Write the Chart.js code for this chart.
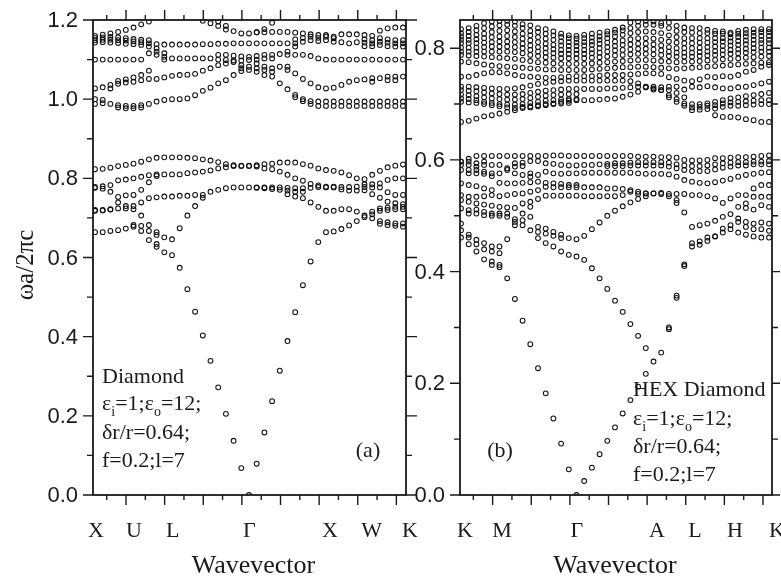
<!DOCTYPE html>
<html><head><meta charset="utf-8">
<script src="https://cdn.jsdelivr.net/npm/chart.js@4.4.1/dist/chart.umd.min.js"></script>
<style>
html,body{margin:0;padding:0;background:#fff;}
#wrap{position:relative;width:781px;height:580px;overflow:hidden;background:#fff;}
canvas{position:absolute;top:0;}
#ca{left:0;} #cb{left:400px;}
</style></head><body>
<div id="wrap"><canvas id="ca" width="430" height="580"></canvas><canvas id="cb" width="381" height="580"></canvas></div>
<script>
// k-point sample index along the path (41 samples per panel)
const K_INDEX = [0,1,2,3,4,5,6,7,8,9,10,11,12,13,14,15,16,17,18,19,20,21,22,23,24,25,26,27,28,29,30,31,32,33,34,35,36,37,38,39,40];
const _ = null;

// ---------- Panel (a): Diamond, path X-U-L-Γ-X-W-K ----------
const SYM_A = ['X','U','L','Γ','X','W','K'];
const SYM_A_POS = [0.13,5.06,10.09,20.04,30.52,35.94,40.9];
const Y_LABELS_A = [0.0,0.2,0.4,0.6,0.8,1.0,1.2];

const A_E  = [0.823,0.824,0.827,0.831,0.834,0.837,0.842,0.848,0.852,0.853, 0.853,0.853,0.852,0.851,0.848,0.845,0.841,0.836,0.833,0.831, 0.831,0.833,0.836,0.837,0.840,0.840,0.840,0.836,0.832,0.825, 0.821,0.819,0.815,0.808,0.800,0.798,0.809,0.819,0.828,0.832,0.835];
const A_D  = [0.778,0.780,0.783,0.795,0.797,0.800,0.804,0.808,0.810,0.810, 0.810,0.810,0.813,0.815,0.817,0.820,0.825,0.828,0.831,0.832, 0.832,0.830,0.825,0.823,0.817,0.809,0.800,0.794,0.786,0.782, 0.779,0.779,0.778,0.778,0.779,0.785,0.785,0.787,0.796,0.800,0.800];
const A_D2 = [0.776,0.774,0.766,0.753,0.757,0.758,0.771,0.790,0.806,_, _,_,_,_,_,_,_,_,_,_, _,0.777,0.777,0.777,0.777,0.776,0.775,0.775,0.776,0.778, 0.777,0.777,0.772,0.769,0.769,0.778,0.777,0.777,0.765,0.758,0.758];
const A_C  = [0.720,0.720,0.722,0.724,0.730,0.730,0.739,0.750,0.752,0.754, 0.754,0.756,0.756,0.758,0.758,0.766,0.771,0.775,0.777,0.777, 0.777,0.776,0.775,0.773,0.771,0.769,0.766,0.766,_,_, _,_,_,_,_,0.770,0.760,0.751,0.741,0.737,0.735];
const A_B  = [0.718,0.719,0.721,0.739,0.724,0.722,0.706,0.682,0.664,0.651, 0.646,0.674,0.706,0.730,0.751,_,_,_,_,_, _,_,_,_,_,0.760,0.754,0.750,0.739,0.728, 0.718,0.718,0.722,0.722,0.716,0.706,0.716,0.724,0.726,0.728,0.728];
const A_F2 = [_,_,_,_,_,_,_,_,0.657,_, _,_,_,_,_,_,_,_,_,_, _,_,_,_,_,_,_,_,_,_, _,_,_,_,_,_,0.709,0.718,0.720,0.722,0.722];
const A_AC = [0.664,0.664,0.667,0.669,0.673,0.678,0.667,0.644,0.627,0.613, 0.606,0.574,0.520,0.463,0.403,0.339,0.272,0.205,0.137,0.068, 0.000,0.079,0.158,0.237,0.314,0.389,0.462,0.530,0.590,0.639, 0.664,0.666,0.672,0.681,0.692,0.702,0.699,0.692,0.689,0.686,0.686];
const A_A2 = [_,_,_,_,_,0.682,0.680,0.667,0.634,_, _,_,_,_,_,_,_,_,_,_, _,_,_,_,_,_,_,_,_,_, _,_,_,_,_,_,_,0.685,0.682,0.680,0.678];

const A_U1 = [1.160,1.163,1.166,1.170,1.175,1.181,1.189,1.196,_,_, _,_,_,_,1.198,1.192,1.185,1.176,1.172,1.166, 1.166,1.169,1.177,1.193,_,_,_,_,_,_, _,_,_,_,_,_,_,_,_,_,_];
const A_U1X= [_,_,_,_,_,_,_,_,_,_, _,_,_,_,_,_,1.196,1.185,_,1.078, _,_,_,_,_,_,_,_,_,_, _,_,_,_,_,_,_,_,_,_,_];
const A_U2 = [1.155,1.156,1.157,1.156,1.154,1.152,1.150,1.149,1.139,1.138, 1.138,1.138,1.138,1.138,1.139,1.139,1.140,1.140,1.141,1.141, 1.141,1.169,1.169,1.170,1.170,1.170,1.168,1.166,1.164,1.162, 1.162,1.158,1.164,1.164,1.164,1.162,1.160,1.173,1.179,1.181,1.181];
const A_U3 = [1.149,1.150,1.150,1.149,1.148,1.146,1.144,1.141,1.128,1.116, 1.103,1.103,1.103,1.103,1.103,1.103,1.112,1.112,1.110,1.108, 1.107,1.141,1.141,1.141,1.141,1.141,1.151,1.155,1.158,1.155, 1.158,1.154,1.144,1.141,1.144,1.151,1.149,1.154,1.151,1.149,1.149];
const A_U4 = [1.143,1.144,1.143,1.142,1.140,1.139,1.137,1.133,1.120,1.107, _,_,_,_,_,_,1.100,1.099,1.098,1.098, 1.099,_,_,_,_,_,1.141,1.145,1.149,1.147, 1.149,1.145,_,_,_,1.143,1.141,1.145,1.143,1.141,1.141];
const A_U5 = [1.100,1.100,1.100,1.100,1.100,1.100,1.100,1.116,1.112,1.100, _,_,_,_,_,_,_,_,_,_, _,1.109,1.112,1.112,1.114,1.120,1.133,_,_,_, _,_,_,_,_,1.134,1.134,1.137,1.134,1.133,1.133];
const A_U6 = [1.027,1.030,1.036,1.046,1.050,1.055,1.061,1.072,_,_, _,_,_,_,_,_,_,_,_,_, _,1.100,1.103,1.103,_,1.112,1.112,1.112,1.109,1.103, 1.100,1.100,1.100,1.100,1.100,1.100,1.100,1.100,1.100,1.100,1.100];
const A_U7 = [_,_,1.027,1.039,1.042,1.044,1.048,1.051,1.051,1.055, 1.059,1.061,1.062,1.064,1.072,1.078,1.086,1.090,1.094,1.086, 1.082,1.090,1.082,1.078,1.082,1.082,1.065,1.051,1.040,1.030, 1.027,1.029,1.036,1.044,1.048,1.050,1.053,1.053,1.057,1.057,1.057];
const A_U8 = [1.000,0.998,0.988,0.985,0.983,0.983,0.985,0.988,0.994,0.998, 1.000,1.000,1.002,1.010,1.021,1.029,1.040,1.048,1.061,1.071, 1.074,1.078,1.074,1.069,_,1.074,_,_,_,_, _,_,_,_,_,_,1.044,_,1.048,1.048,_];
const A_U9 = [0.988,0.990,_,0.979,0.977,0.977,0.979,_,_,_, _,_,_,_,_,_,_,_,_,_, _,1.069,1.061,1.057,1.040,1.025,1.011,1.000,0.995,0.994, 0.994,0.994,0.994,0.994,0.994,0.994,0.994,0.994,0.994,0.994,0.994];
const A_U10= [_,_,_,_,_,_,_,_,_,_, _,_,_,_,_,_,_,_,_,_, _,_,_,_,_,_,1.005,0.995,0.988,0.983, 0.983,0.983,0.983,0.983,0.983,0.983,0.983,0.983,0.983,0.983,0.983];

// ---------- Panel (b): HEX Diamond, path K-M-Γ-A-L-H-K ----------
const SYM_B = ['K','M','Γ','A','L','H','K'];
const SYM_B_POS = [0.52,5.32,15.06,25.45,30.39,35.58,41.04];
const Y_LABELS_B = [0.0,0.2,0.4,0.6,0.8];

const B_U1 = [0.834,0.836,0.840,0.845,0.848,0.849,0.849,0.848,0.843,0.841, 0.836,0.834,0.830,0.826,0.823,0.822,0.824,0.826,0.828,0.830, 0.833,0.837,0.846,0.848,0.849,0.848,0.845,0.846,0.840,0.837, 0.836,0.836,0.833,0.831,0.830,0.828,0.831,0.833,0.834,0.834,0.834];
const B_U2 = [0.827,0.829,0.832,0.836,0.839,0.841,0.842,0.840,0.836,0.831, 0.829,0.826,0.823,0.820,0.818,0.817,0.818,0.819,0.821,0.825, 0.828,0.832,0.836,0.840,0.842,0.842,0.840,0.836,0.831,0.829, 0.828,0.827,0.827,0.826,0.826,0.825,0.826,0.827,0.828,0.829,0.829];
const B_U3 = [0.821,0.822,0.824,0.826,0.829,0.831,0.832,0.830,0.826,0.823, 0.820,0.817,0.815,0.812,0.811,0.810,0.811,0.812,0.815,0.818, 0.821,0.824,0.827,0.829,0.830,0.829,0.827,0.823,0.820,0.818, 0.818,0.818,0.818,0.818,0.818,0.819,0.820,0.821,0.822,0.822,0.822];
const B_U4 = [0.815,0.815,0.816,0.818,0.820,0.821,0.822,0.820,0.817,0.814, 0.811,0.808,0.806,0.805,0.804,0.804,0.805,0.806,0.808,0.810, 0.812,0.814,0.816,0.818,0.818,0.817,0.815,0.812,0.810,0.809, 0.809,0.810,0.810,0.811,0.812,0.812,0.813,0.814,0.815,0.815,0.815];
const B_U5 = [0.809,0.809,0.809,0.810,0.811,0.812,0.812,0.811,0.808,0.805, 0.802,0.800,0.798,0.797,0.797,0.797,0.797,0.798,0.800,0.802, 0.804,0.806,0.807,0.808,0.808,0.807,0.805,0.802,0.800,0.800, 0.800,0.801,0.802,0.803,0.804,0.805,0.806,0.807,0.808,0.809,0.809];
const B_U6 = [0.801,0.801,0.801,0.802,0.803,0.803,0.803,0.802,0.800,0.797, 0.794,0.792,0.791,0.790,0.790,0.790,0.790,0.791,0.792,0.794, 0.796,0.797,0.798,0.799,0.799,0.798,0.796,0.794,0.792,0.792, 0.792,0.793,0.794,0.795,0.796,0.797,0.798,0.799,0.800,0.801,0.801];
const B_U7 = [0.794,0.794,0.794,0.794,0.794,0.794,0.794,0.793,0.791,0.788, 0.786,0.784,0.783,0.782,0.782,0.782,0.782,0.783,0.784,0.785, 0.787,0.788,0.789,0.790,0.790,0.789,0.788,0.786,0.785,0.785, 0.785,0.786,0.787,0.788,0.789,0.790,0.791,0.792,0.793,0.794,0.794];
const B_U8 = [0.788,0.787,0.786,0.785,0.784,0.783,0.782,0.781,0.779,0.777, 0.775,0.774,0.773,0.772,0.772,0.772,0.772,0.773,0.774,0.775, 0.776,0.777,0.778,0.779,0.779,0.778,0.777,0.776,0.775,0.776, 0.776,0.777,0.778,0.779,0.780,0.781,0.782,0.783,0.784,0.785,0.786];
const B_U9 = [0.776,0.775,0.773,0.771,0.769,0.768,0.767,0.766,0.765,0.764, 0.763,0.762,0.762,0.761,0.761,0.761,0.761,0.762,0.763,0.764, 0.765,0.766,0.766,0.767,0.767,0.766,0.765,0.764,0.763,0.764, 0.765,0.766,0.767,0.768,0.769,0.770,0.771,0.772,0.773,0.774,0.775];
const B_U10= [0.749,0.749,0.752,0.755,0.757,0.757,0.755,0.752,0.750,0.749, 0.748,0.747,0.747,0.748,0.749,0.750,0.750,0.750,0.751,0.752, 0.752,0.752,0.753,0.754,0.755,0.755,0.754,0.748,0.745,0.742, 0.741,0.744,0.749,0.748,0.750,0.749,0.752,0.758,0.761,0.767,0.770];
const B_U11= [0.731,0.731,0.730,0.729,0.728,0.727,0.727,0.728,0.730,0.733, 0.736,0.738,0.740,0.741,0.742,0.742,0.742,0.742,0.742,0.742, 0.742,0.742,0.741,0.737,0.730,0.728,0.725,0.731,0.731,0.726, 0.731,0.730,0.732,0.730,0.728,0.728,0.730,0.731,0.734,0.737,0.740];
const B_U12= [0.725,0.724,0.723,0.721,0.719,0.718,0.717,0.717,0.718,0.720, 0.722,0.724,0.725,0.726,0.727,0.727,0.727,0.727,0.727,0.728, 0.728,0.729,0.730,0.731,0.731,0.731,0.730,0.725,0.720,0.712, 0.700,0.700,0.701,0.704,0.707,0.710,0.712,0.714,0.716,0.718,0.720];
const B_U13= [0.717,0.716,0.714,0.712,0.710,0.709,0.708,0.708,0.709,0.711, 0.713,0.715,0.716,0.717,0.718,0.718,_,_,_,_, _,_,_,_,_,_,_,0.716,0.709,0.701, 0.694,0.695,0.697,0.698,0.701,0.703,0.704,0.705,0.706,0.707,0.707];
const B_U14= [0.710,0.709,0.707,0.704,0.702,0.700,0.699,0.699,0.700,0.702, 0.704,0.706,0.707,0.708,0.709,0.709,_,_,_,_, _,_,_,_,_,_,_,_,_,_, 0.689,0.690,0.691,0.692,0.695,0.697,0.697,0.698,0.699,0.700,0.700];
const B_U15= [0.704,0.703,0.702,0.700,0.698,0.696,0.694,0.693,0.693,0.694, 0.696,0.698,0.700,0.701,0.702,_,_,_,_,_, _,_,_,_,_,_,_,_,_,_, _,_,_,_,_,_,_,_,_,_,_];
const B_U16= [0.668,0.670,0.674,0.678,0.680,0.683,0.686,0.689,0.695,0.696, 0.698,0.700,0.701,0.704,0.706,0.707,0.707,0.707,0.708,0.709, 0.710,0.713,0.717,0.722,0.730,0.726,0.725,0.712,0.704,0.697, _,_,_,0.680,0.677,0.677,0.676,0.673,0.671,0.668,0.668];

const B_G1 = [0.597,0.602,0.607,0.607,0.607,0.607,0.607,0.607,0.607,0.607, 0.607,0.607,0.608,0.608,0.607,0.607,0.607,0.607,0.607,0.607, 0.607,0.607,0.607,0.606,0.606,0.606,0.605,0.605,0.604,0.600, 0.599,0.599,0.600,0.603,0.603,0.604,0.605,0.605,0.606,0.607,0.608];
const B_G2 = [0.597,0.597,0.594,0.597,0.591,0.591,0.585,0.594,0.595,0.598, 0.598,0.594,0.593,0.591,0.590,0.590,0.591,0.591,0.592,0.593, 0.594,0.594,0.595,0.596,0.596,0.596,0.596,0.595,0.592,0.590, 0.589,0.589,0.590,0.592,0.594,0.595,0.596,0.596,0.597,0.597,0.598];
const B_G3 = [0.591,0.591,0.588,0.591,_,_,_,0.588,0.589,_, _,_,_,_,_,_,_,_,_,0.589, 0.589,0.589,0.590,0.590,0.590,0.590,0.590,0.588,0.585,0.582, 0.580,0.580,0.580,0.583,0.586,0.588,0.590,0.590,0.592,0.592,0.592];
const B_G4 = [0.582,0.582,0.582,0.579,0.576,0.576,0.582,0.576,0.573,0.576, 0.573,0.579,0.576,0.575,0.576,0.576,0.577,0.577,0.577,0.577, 0.577,0.577,0.577,0.576,0.575,0.575,0.575,0.574,0.570,0.564, 0.561,0.559,0.558,0.560,0.563,0.566,0.570,0.573,0.575,0.577,0.578];
const B_G5 = [_,0.576,0.576,0.575,0.571,_,_,_,_,0.570, _,_,_,_,_,_,_,_,_,_, _,_,_,_,_,_,_,_,_,_, _,_,_,_,_,_,_,_,_,_,_];
const B_G6 = [0.558,0.555,0.553,0.549,0.546,0.559,0.558,0.558,0.559,0.560, 0.561,0.559,0.558,0.557,0.555,0.555,_,_,_,_, _,_,_,_,_,_,_,_,_,_, _,_,_,_,_,_,_,_,_,_,_];
const B_G7 = [0.537,0.534,0.534,0.535,0.537,0.535,0.537,0.539,0.540,0.543, 0.546,0.552,0.551,0.551,0.551,0.551,0.551,0.551,0.551,0.549, 0.549,0.548,0.546,0.543,0.540,0.540,0.539,0.539,0.539,0.539, 0.537,0.537,0.535,0.531,0.523,0.531,0.537,0.537,0.549,0.555,0.555];
const B_G8 = [0.528,0.525,0.522,0.520,0.518,0.516,0.515,0.514,0.522,0.525, 0.530,0.536,0.536,0.536,0.536,0.536,0.535,0.535,0.535,0.535, 0.535,0.537,0.543,0.539,0.540,0.540,0.541,0.535,0.528,0.506, 0.480,0.483,0.486,0.491,0.498,0.503,0.516,0.522,0.534,0.534,0.534];
const B_G9 = [0.513,0.510,0.511,0.507,0.504,0.504,0.504,0.494,0.504,0.516, _,_,_,_,_,_,_,_,_,_, _,_,_,_,_,_,_,_,0.523,_, _,_,_,_,_,_,_,0.514,0.511,0.519,0.516];
const B_G10= [0.486,0.504,0.504,0.501,0.500,0.500,0.498,0.489,0.492,0.498, 0.480,0.477,0.471,0.466,0.460,0.458,0.464,0.476,0.488,0.500, 0.509,0.517,0.524,0.530,0.535,_,_,_,_,_, _,_,_,_,_,_,_,_,_,_,_];
const B_G11= [0.474,0.466,0.457,0.451,0.445,0.445,0.458,0.483,0.483,0.474, 0.471,0.468,0.464,0.460,_,_,_,_,_,_, _,_,_,_,_,_,_,_,_,_, _,_,_,_,_,_,0.489,0.480,0.476,0.476,0.473];
const B_FB = [_,0.461,0.449,0.440,0.436,0.433,_,_,_,_, 0.460,0.451,0.445,0.436,0.430,0.427,0.421,0.406,0.388,0.369, 0.348,0.328,0.306,0.285,0.263,_,_,0.300,0.357,0.413, 0.451,0.454,0.461,0.463,0.477,0.483,0.495,0.489,0.486,0.488,0.486];
const B_AC = [0.461,0.449,0.436,0.422,0.418,0.412,0.388,0.351,0.312,0.270, 0.227,0.182,0.137,0.092,0.046,0.000,0.025,0.049,0.073,0.097, 0.121,0.146,0.170,0.194,0.217,0.239,0.255,0.297,0.353,0.410, 0.445,0.448,0.455,0.463,0.470,0.476,0.470,0.466,0.463,0.461,0.461];
const B_X  = [_,_,_,_,0.412,0.408,_,_,_,_, _,_,_,_,_,_,_,_,_,_, _,_,_,_,_,_,_,_,_,_, _,_,_,_,_,_,_,_,_,_,_];

const BANDS_A = [A_E,A_D,A_D2,A_C,A_B,A_F2,A_AC,A_A2,A_U1,A_U1X,A_U2,A_U3,A_U4,A_U5,A_U6,A_U7,A_U8,A_U9,A_U10];
const BANDS_B = [B_U1,B_U2,B_U3,B_U4,B_U5,B_U6,B_U7,B_U8,B_U9,B_U10,B_U11,B_U12,B_U13,B_U14,B_U15,B_U16,
                 B_G1,B_G2,B_G3,B_G4,B_G5,B_G6,B_G7,B_G8,B_G9,B_G10,B_G11,B_FB,B_AC,B_X];

const INK = '#1a1a1a';
const PT = '#111';
const SERIF = '"Liberation Serif","Times New Roman",Times,serif';
const SANS = '"Liberation Sans",Arial,Helvetica,sans-serif';
const X_TICK_STEP = 2.508;

function richText(ctx, x, y, parts, size){
  let cx = x;
  for (const p of parts){
    if (p.sub){
      ctx.font = Math.round(size*0.62)+'px '+SERIF;
      ctx.fillText(p.t, cx, y + size*0.28);
      cx += ctx.measureText(p.t).width;
    } else {
      ctx.font = size+'px '+SERIF;
      ctx.fillText(p.t, cx, y);
      cx += ctx.measureText(p.t).width;
    }
  }
}

function framePlugin(o){
  return {id:'frame_'+o.name, afterDraw(chart){
    const ctx = chart.ctx, a = chart.chartArea, x = chart.scales.x, y = chart.scales.y;
    ctx.save();
    ctx.strokeStyle = INK; ctx.lineWidth = 1.8;
    ctx.strokeRect(a.left, a.top, a.right-a.left, a.bottom-a.top);
    ctx.lineWidth = 1.4;
    ctx.beginPath();
    for (let k=0;k<=o.yCount;k++){
      const py = y.getPixelForValue(k/10);
      const major = k%2===0;
      const lL = major?10:6, lR = major?o.rMaj:o.rMin;
      ctx.moveTo(a.left-lL, py); ctx.lineTo(a.left, py);
      ctx.moveTo(a.right, py); ctx.lineTo(a.right+lR, py);
    }
    for (let j=0;j<16;j++){
      const px = x.getPixelForValue(o.x0 + j*X_TICK_STEP);
      const major = j%2===1; const L = major?10:5;
      ctx.moveTo(px, a.bottom); ctx.lineTo(px, a.bottom+L);
      ctx.moveTo(px, a.top); ctx.lineTo(px, a.top-L);
    }
    ctx.stroke();
    ctx.fillStyle = INK;
    ctx.font = '22px '+SANS;
    ctx.textAlign='right'; ctx.textBaseline='middle';
    for (const t of o.yLabels){ ctx.fillText(t.toFixed(1), a.left-15, y.getPixelForValue(t)+1); }
    ctx.textAlign='center'; ctx.textBaseline='alphabetic';
    ctx.font = '22px '+SERIF;
    o.sym.forEach((s,i)=>{ ctx.fillText(s, x.getPixelForValue(o.symPos[i]), 537); });
    ctx.font = '26px '+SERIF;
    ctx.fillText('Wavevector', (a.left+a.right)/2 + o.titleDx, 573);
    if (o.yTitle){
      ctx.save(); ctx.translate(33, 265); ctx.rotate(-Math.PI/2);
      ctx.font = '25px '+SERIF; ctx.textAlign='center';
      ctx.fillText(o.yTitle, 0, 0); ctx.restore();
    }
    ctx.textAlign='left';
    const ax = o.noteX, ny = o.noteY, sz = 22;
    richText(ctx, ax, ny[0], [{t:o.noteTitle}], sz);
    richText(ctx, ax, ny[1], [{t:'ε'},{t:'i',sub:true},{t:'=1;ε'},{t:'o',sub:true},{t:'=12;'}], sz);
    richText(ctx, ax, ny[2], [{t:'δr/r=0.64;'}], sz);
    richText(ctx, ax, ny[3], [{t:'f=0.2;l=7'}], sz);
    ctx.textAlign='center'; ctx.font = sz+'px '+SERIF;
    ctx.fillText(o.tag, o.tagX, 457);
    ctx.restore();
  }};
}

function makeChart(id, bands, yMax, xMin, padding, o){
  const datasets = bands.map(b => ({
    data: b.map((v,i)=> v===null ? null : {x:K_INDEX[i], y:v}).filter(p=>p!==null),
    showLine:false, pointRadius:2.4, pointHoverRadius:2.4, pointBorderWidth:1.05, borderWidth:1.05,
    borderColor:PT, pointBorderColor:PT, backgroundColor:'rgba(255,255,255,0)', pointBackgroundColor:'rgba(255,255,255,0)'
  }));
  return new Chart(document.getElementById(id), {
    type:'scatter', data:{datasets},
    options:{responsive:false, animation:false, devicePixelRatio:1, events:[],
      layout:{padding},
      plugins:{legend:{display:false}, tooltip:{enabled:false}},
      scales:{x:{type:'linear', display:false, min:xMin, max:40.39},
              y:{type:'linear', display:false, min:0, max:yMax}}},
    plugins:[framePlugin(o)]
  });
}

makeChart('ca', BANDS_A, 1.2, -0.26, {left:93,right:24,top:20,bottom:85},
  {name:'a', yCount:12, rMaj:11, rMin:6, x0:1.52, yLabels:Y_LABELS_A, sym:SYM_A, symPos:SYM_A_POS,
   titleDx:4, yTitle:'ωa/2πc', noteX:102, noteY:[383,410,439,467], noteTitle:'Diamond', tag:'(a)', tagX:368});
makeChart('cb', BANDS_B, 0.8505, -0.13, {left:60,right:9,top:20,bottom:85},
  {name:'b', yCount:8, rMaj:8, rMin:6, x0:1.6, yLabels:Y_LABELS_B, sym:SYM_B, symPos:SYM_B_POS,
   titleDx:-1, yTitle:null, noteX:233, noteY:[396,425,453,481], noteTitle:'HEX Diamond', tag:'(b)', tagX:100});
</script></body></html>
